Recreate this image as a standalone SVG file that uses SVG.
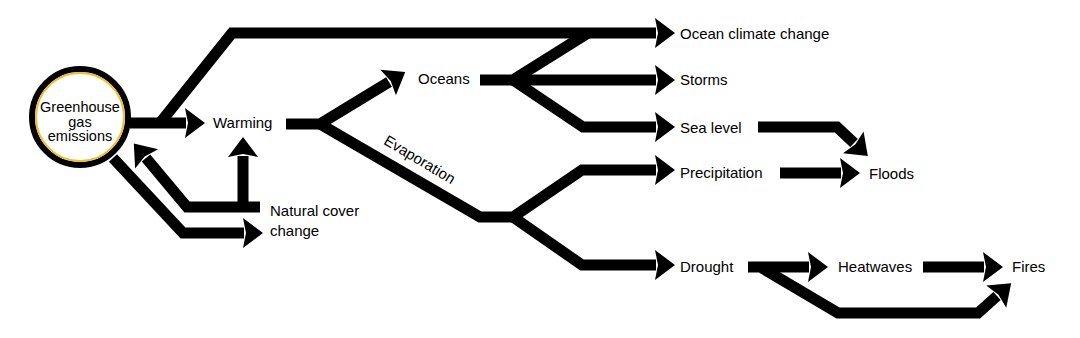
<svg xmlns="http://www.w3.org/2000/svg" width="1080" height="338" viewBox="0 0 1080 338">
<style>
.c{fill:none;stroke:#000;stroke-width:11;stroke-linejoin:miter;marker-end:url(#ah)}
.n{fill:none;stroke:#000;stroke-width:11;stroke-linejoin:miter}
text{font-family:"Liberation Sans",Arial,sans-serif;font-size:15px;fill:#000}
.g{font-size:14.5px}
</style>
<defs>
<marker id="ah" markerUnits="userSpaceOnUse" markerWidth="22" markerHeight="32" refX="1" refY="15" orient="auto" overflow="visible">
<path d="M0,0 L20,15 L0,30 L3,15 Z" fill="#000"/>
</marker>
</defs>
<rect width="1080" height="338" fill="#fff"/>
<g id="connectors">
<path class="c" d="M130 123 L186 123"/>
<path class="c" d="M160 123 L232 33 L656 33"/>
<path class="c" d="M286 124 L320 124 L389 82"/>
<path class="n" d="M480 80 L513 80 L588 33"/>
<path class="c" d="M513 80 L656 80"/>
<path class="c" d="M513 80 L583 127 L656 127"/>
<path class="c" d="M320 124 L480 217 L513 217 L582 170 L656 170"/>
<path class="c" d="M513 217 L582 265 L656 265"/>
<path class="c" d="M758 127 L837 127 L854 143"/>
<path class="c" d="M780 173 L841 173"/>
<path class="c" d="M748 267 L809 267"/>
<path class="c" d="M762 268 L838 313 L978 313 L997 296"/>
<path class="c" d="M923 267 L984 267"/>
<path class="c" d="M113 158 L183 233 L244 233"/>
<path class="c" d="M243 207 L243 156"/>
<path class="c" d="M260 207 L187 207 L146 158"/>
</g>
<g id="greenhouse">
<circle cx="80" cy="117" r="48" fill="#fff" stroke="#000" stroke-width="6"/>
<circle cx="80" cy="117" r="44" fill="none" stroke="#f0c030" stroke-width="2"/>
<text class="g" x="80" y="112" text-anchor="middle">Greenhouse</text>
<text class="g" x="80" y="126.5" text-anchor="middle">gas</text>
<text class="g" x="80" y="141" text-anchor="middle">emissions</text>
</g>
<g id="warming"><text x="213" y="128">Warming</text></g>
<g id="natural"><text x="270" y="216">Natural cover</text><text x="270" y="236">change</text></g>
<g id="oceans"><text x="418" y="84">Oceans</text></g>
<g id="evaporation"><text transform="translate(417,164) rotate(31)" x="0" y="0" text-anchor="middle">Evaporation</text></g>
<g id="ocean-climate"><text x="680" y="39">Ocean climate change</text></g>
<g id="storms"><text x="680" y="85">Storms</text></g>
<g id="sea-level"><text x="680" y="133">Sea level</text></g>
<g id="precipitation"><text x="680" y="178">Precipitation</text></g>
<g id="floods"><text x="869" y="179">Floods</text></g>
<g id="drought"><text x="680" y="272">Drought</text></g>
<g id="heatwaves"><text x="838" y="272">Heatwaves</text></g>
<g id="fires"><text x="1012" y="272">Fires</text></g>
</svg>
